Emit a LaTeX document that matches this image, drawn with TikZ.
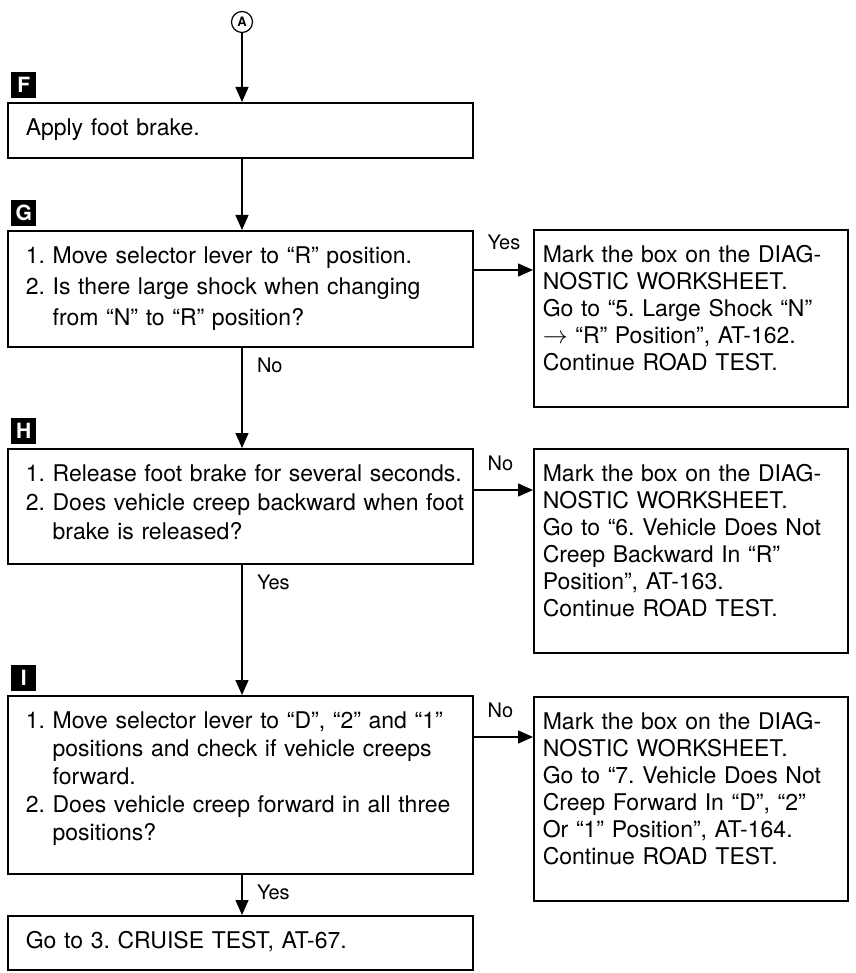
\documentclass[tikz,border=0pt]{standalone}
\usepackage{fontspec}
\setmainfont{TeX Gyre Heros}
\usetikzlibrary{arrows.meta,positioning}
\newcommand{\contind}{\hphantom{2.\ }}
\newcommand{\boxfont}[1]{\fontsize{23}{#1}\selectfont\frenchspacing\hyphenpenalty=10000\relax}
\newcommand{\stepindent}{\leftskip=13.5pt\relax}
\begin{document}
\begin{tikzpicture}[x=1pt, y=-1pt,
    boxbase/.style={draw, line width=1.6pt, anchor=north west, align=left, inner ysep=16pt, text height=17pt},
    stepbox/.style={boxbase, inner xsep=4.5pt, text width=456pt, font=\boxfont{29}, execute at begin node=\stepindent},
    notebox/.style={boxbase, inner xsep=9pt, text width=296pt, font=\boxfont{27}},
    marker/.style={fill=black, text=white, font=\fontsize{21}{21}\selectfont\bfseries, minimum width=25pt, minimum height=26pt, inner sep=0pt},
    flow/.style={line width=1.4pt, -{Triangle[length=15pt, width=13pt]}},
    brlbl/.style={pos=0, anchor=base west, xshift=10pt, yshift=20pt, font=\fontsize{20}{20}\selectfont},
    dnlbl/.style={pos=0, anchor=base west, xshift=11pt, yshift=-25pt, font=\fontsize{20}{20}\selectfont}]
  \useasboundingbox (0,0) rectangle (855,973);
  \fill[white] (0,0) rectangle (855,973);
  \node[draw, circle, line width=1.2pt, minimum size=21pt, inner sep=0pt, font=\fontsize{13}{13}\selectfont\bfseries] (conA) at (242,22) {A};
  \node[stepbox, text depth=6pt] (F) at (7,102) {Apply foot brake.};
  \node[stepbox, font=\boxfont{31}, text depth=67pt] (G) at (7,230) {1. Move selector lever to “R” position.\\2. Is there large shock when changing\\\contind from “N” to “R” position?};
  \node[notebox, text depth=128pt] (GR) at (533,229) {Mark the box on the DIAG-\\NOSTIC WORKSHEET.\\Go to “5. Large Shock “N”\\$\rightarrow$ “R” Position”, AT-162.\\Continue ROAD TEST.};
  \node[stepbox, text depth=66pt] (H) at (7,448) {1. Release foot brake for several seconds.\\2. Does vehicle creep backward when foot\\\contind brake is released?};
  \node[notebox, text depth=155pt] (HR) at (533,448) {Mark the box on the DIAG-\\NOSTIC WORKSHEET.\\Go to “6. Vehicle Does Not\\Creep Backward In “R”\\Position”, AT-163.\\Continue ROAD TEST.};
  \node[stepbox, font=\boxfont{28}, text depth=129pt] (I) at (7,695) {1. Move selector lever to “D”, “2” and “1”\\\contind positions and check if vehicle creeps\\\contind forward.\\2. Does vehicle creep forward in all three\\\contind positions?};
  \node[notebox, text depth=155pt] (IR) at (533,696) {Mark the box on the DIAG-\\NOSTIC WORKSHEET.\\Go to “7. Vehicle Does Not\\Creep Forward In “D”, “2”\\Or “1” Position”, AT-164.\\Continue ROAD TEST.};
  \node[stepbox, text depth=5pt] (J) at (7,915) {Go to 3. CRUISE TEST, AT-67.};
  \node[marker, above right=4pt and 4pt of F.north west] (mF) {F};
  \node[marker, above right=4pt and 4pt of G.north west] (mG) {G};
  \node[marker, above right=4pt and 4pt of H.north west] (mH) {H};
  \node[marker, above right=4pt and 4pt of I.north west] (mI) {I};
  \draw[flow] (conA) -- (conA |- F.north);
  \draw[flow] (conA |- F.south) -- (conA |- G.north);
  \draw[flow] (conA |- G.south) -- node[dnlbl] {No} (conA |- H.north);
  \draw[flow] (conA |- H.south) -- node[dnlbl] {Yes} (conA |- I.north);
  \draw[flow] (conA |- I.south) -- node[dnlbl] {Yes} (conA |- J.north);
  \draw[flow] ([yshift=-40pt]G.north east) -- node[brlbl] {Yes} ([yshift=-40pt]G.north east -| GR.west);
  \draw[flow] ([yshift=-42pt]H.north east) -- node[brlbl] {No} ([yshift=-42pt]H.north east -| HR.west);
  \draw[flow] ([yshift=-42pt]I.north east) -- node[brlbl] {No} ([yshift=-42pt]I.north east -| IR.west);
\end{tikzpicture}
\end{document}
